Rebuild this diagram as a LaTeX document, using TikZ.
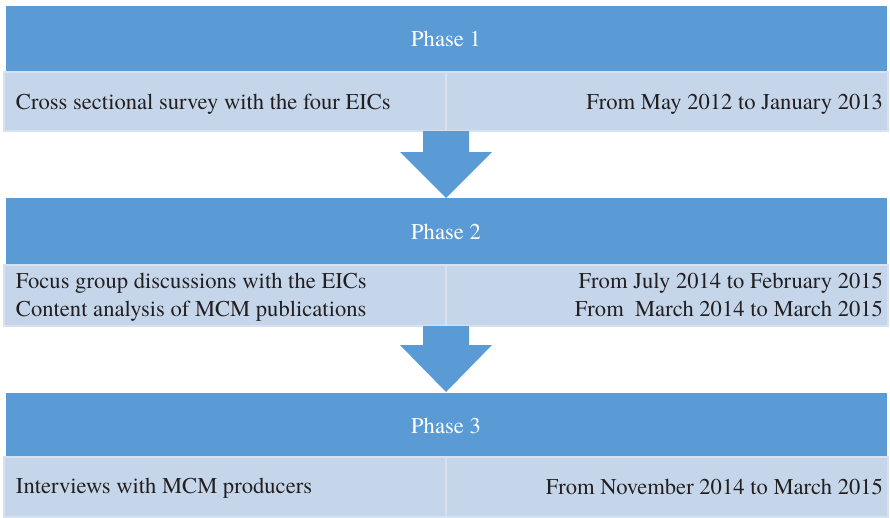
\documentclass[tikz,border=0pt]{standalone}
\usepackage{fontspec}
\setmainfont{texgyretermes}[Extension=.otf, UprightFont=*-regular, BoldFont=*-bold, ItalicFont=*-italic, BoldItalicFont=*-bolditalic]
\usetikzlibrary{positioning}
\usetikzlibrary{calc}
\definecolor{hd}{RGB}{91, 155, 213}
\definecolor{rw}{RGB}{197, 214, 235}
\definecolor{rl}{RGB}{214, 226, 241}
\definecolor{tx}{RGB}{35, 31, 32}

\begin{document}
\begin{tikzpicture}
			[x=1pt,y=-1pt,every node/.style={inner sep=0pt,outer sep=0pt},
			 phasebox/.style={anchor=north west, minimum width=881pt, fill=hd, text=white, font=\rmfamily\fontsize{22.6}{27}\selectfont},
			 cellbox/.style={anchor=north west, minimum width=442pt, fill=rw, draw=rl, line width=1.5pt},
			 celltext/.style={text=tx, font=\rmfamily\fontsize{22.6}{27}\selectfont}]
			\useasboundingbox (0,0) rectangle (890,517);
			% phase 1
			\node (h1) [phasebox, minimum height=66pt] at (6, 6) {};
			\node (p1) [text=white, font=\rmfamily\fontsize{22.6}{27}\selectfont, anchor=base] at (446, 46) {Phase 1};
			\node (r1l) [cellbox, minimum height=59pt] at (4, 72) {};
			\node (r1r) [cellbox, minimum height=59pt] at (446, 72) {};
			\node (t1l) [celltext, anchor=base west] at (16, 109) {Cross sectional survey with the four EICs};
			\node (t1r) [celltext, anchor=base east] at (883, 109) {From May 2012 to January 2013};
			% phase 2
			\node (h2) [phasebox, minimum height=67pt] at (6, 198) {};
			\node (p2) [text=white, font=\rmfamily\fontsize{22.6}{27}\selectfont, anchor=base] at (446, 239) {Phase 2};
			\node (r2l) [cellbox, minimum height=61pt] at (4, 265) {};
			\node (r2r) [cellbox, minimum height=61pt] at (446, 265) {};
			\node (t2l) [celltext, anchor=base west] at (16, 288) {Focus group discussions with the EICs};
			\node (t2r) [celltext, anchor=base east] at (883, 288) {From July 2014 to February 2015};
			\node (t3l) [celltext, anchor=base west] at (16, 316) {Content analysis of MCM publications};
			\node (t3r) [celltext, anchor=base east] at (883, 316) {From\ \ March 2014 to March 2015};
			% phase 3
			\node (h3) [phasebox, minimum height=64pt] at (6, 393) {};
			\node (p3) [text=white, font=\rmfamily\fontsize{22.6}{27}\selectfont, anchor=base] at (446, 433) {Phase 3};
			\node (r3l) [cellbox, minimum height=60pt] at (4, 457) {};
			\node (r3r) [cellbox, minimum height=60pt] at (446, 457) {};
			\node (t4l) [celltext, anchor=base west] at (16, 493) {Interviews with MCM producers};
			\node (t4r) [celltext, anchor=base east] at (883, 494) {From November 2014 to March 2015};
			% arrows
			\fill [hd, shift={(r1l.south east)}] (-23, 0) -- (23, 0) -- (23, 21) -- (46, 21) -- (0, 67) -- (-46, 21) -- (-23, 21) -- cycle;
			\fill [hd, shift={(r2l.south east)}] (-23, 0) -- (23, 0) -- (23, 19) -- (46, 19) -- (0, 66) -- (-46, 19) -- (-23, 19) -- cycle;
	\end{tikzpicture}
\end{document}
